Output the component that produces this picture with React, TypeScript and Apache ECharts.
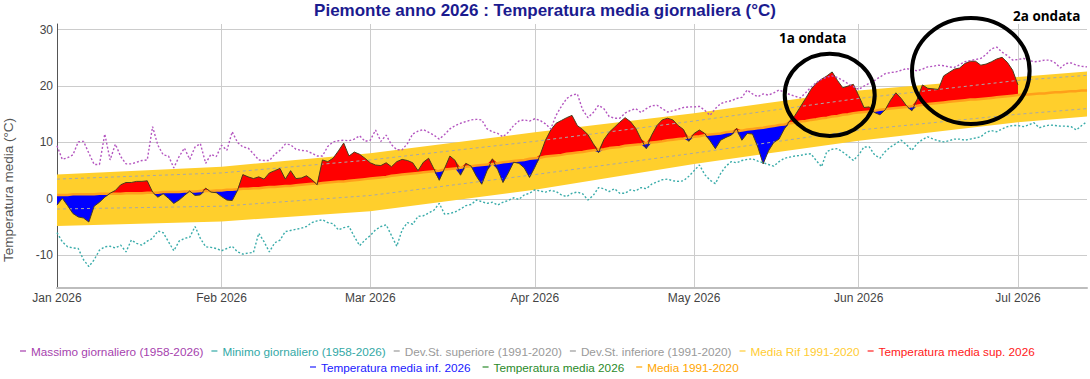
import React, { useEffect, useRef } from 'react';
import * as echarts from 'echarts';

// ---------- data ----------
const START = Date.UTC(2026, 0, 1);
const DAY_MS = 86400000;
const N_DAYS = 195; // Jan 1 .. Jul 14 2026
const categories: string[] = Array.from({ length: N_DAYS }, (_, i) =>
  new Date(START + i * DAY_MS).toISOString().slice(0, 10)
);
const MONTHS = ['Jan', 'Feb', 'Mar', 'Apr', 'May', 'Jun', 'Jul', 'Aug'];

// Temperatura media giornaliera 2026 (Jan 1 .. Jul 1)
const temp2026 = [
  -1.1, 0.1, -1.2, -2.6, -3.2, -3.4, -4.1, -1.3, -0.6, 0.3,
  1.0, 1.5, 2.5, 2.9, 2.9, 3.1, 3.1, 3.2, 1.2, 0.3,
  0.9, 0.1, -0.8, -0.2, 0.6, 1.4, 0.6, 0.7, 1.9, 1.2,
  1.1, 0.4, -0.2, -0.3, 1.5, 4.3, 3.9, 3.6, 3.9, 3.5,
  4.6, 5.0, 5.4, 3.5, 5.0, 3.6, 3.7, 4.1, 3.4, 2.5,
  6.9, 6.6, 7.2, 8.5, 9.9, 7.6, 8.3, 7.9, 7.2, 6.4,
  6.0, 5.9, 6.4, 5.7, 6.6, 7.0, 6.8, 6.4, 5.0, 6.5,
  7.2, 5.3, 3.3, 5.4, 7.6, 6.8, 4.2, 6.3, 5.8, 4.0,
  2.6, 5.0, 7.1, 5.2, 2.9, 4.6, 6.5, 6.3, 5.5, 3.8,
  5.6, 7.8, 10.4, 12.2, 13.4, 13.9, 14.4, 14.8, 13.0, 12.3,
  11.4, 9.8, 8.2, 10.5, 11.8, 12.7, 13.6, 14.4, 13.7, 12.5,
  10.6, 8.9, 11.3, 13.0, 14.0, 14.3, 14.0, 13.0, 12.3, 10.2,
  11.6, 12.2, 11.6, 10.3, 8.9, 10.4, 10.9, 11.3, 12.5, 10.4,
  11.6, 11.5, 9.2, 6.2, 8.5, 10.0, 10.6, 12.4, 13.8, 14.8,
  16.3, 17.8, 19.4, 20.5, 21.2, 21.8, 22.5, 21.0, 19.7, 20.0,
  20.3, 18.3, 16.2, 16.3, 15.3, 14.9, 15.8, 17.5, 18.8, 17.8,
  16.5, 15.6, 17.6, 20.2, 19.6, 19.5, 19.4, 21.8, 22.4, 23.0,
  23.2, 24.0, 24.4, 24.4, 23.7, 23.9, 24.3, 24.8, 25.1, 24.2,
  22.8, 20.2,
];

// Media 1991-2020 (daily climatology, Jan 1 .. Jul 14)
const media9120 = [
  0.7, 0.7, 0.7, 0.8, 0.8, 0.8, 0.8, 0.8, 0.9, 0.9,
  0.9, 0.9, 0.9, 1.0, 1.0, 1.0, 1.0, 1.1, 1.1, 1.1,
  1.2, 1.2, 1.2, 1.2, 1.3, 1.3, 1.3, 1.4, 1.4, 1.4,
  1.5, 1.5, 1.6, 1.6, 1.7, 1.8, 1.8, 1.9, 1.9, 2.0,
  2.1, 2.1, 2.2, 2.3, 2.3, 2.4, 2.5, 2.6, 2.7, 2.7,
  2.8, 2.9, 3.0, 3.1, 3.1, 3.2, 3.3, 3.4, 3.5, 3.6,
  3.7, 3.8, 3.9, 4.1, 4.2, 4.3, 4.4, 4.5, 4.6, 4.7,
  4.8, 4.9, 5.0, 5.2, 5.3, 5.4, 5.5, 5.7, 5.8, 5.9,
  6.0, 6.1, 6.2, 6.3, 6.5, 6.6, 6.7, 6.8, 6.9, 7.1,
  7.2, 7.3, 7.5, 7.6, 7.7, 7.8, 8.0, 8.1, 8.2, 8.3,
  8.5, 8.6, 8.7, 8.8, 9.0, 9.1, 9.2, 9.4, 9.5, 9.6,
  9.7, 9.9, 10.0, 10.1, 10.2, 10.4, 10.5, 10.6, 10.7, 10.9,
  11.0, 11.1, 11.3, 11.4, 11.5, 11.6, 11.8, 11.9, 12.0, 12.1,
  12.3, 12.4, 12.5, 12.6, 12.8, 12.9, 13.1, 13.2, 13.4, 13.5,
  13.7, 13.8, 14.0, 14.1, 14.3, 14.4, 14.6, 14.7, 14.9, 15.0,
  15.2, 15.3, 15.4, 15.5, 15.6, 15.8, 15.9, 16.0, 16.1, 16.2,
  16.3, 16.4, 16.5, 16.7, 16.8, 16.9, 17.0, 17.1, 17.2, 17.3,
  17.4, 17.5, 17.6, 17.6, 17.7, 17.8, 17.9, 18.0, 18.1, 18.2,
  18.3, 18.4, 18.5, 18.5, 18.6, 18.7, 18.7, 18.8, 18.9, 18.9,
  19.0, 19.1, 19.1, 19.2, 19.2,
];

// Massimo giornaliero (1958-2026)
const maxDaily = [
  9.4, 7.0, 7.3, 7.8, 10.1, 10.2, 8.1, 6.1, 6.1, 11.5,
  6.9, 9.7, 7.5, 6.2, 6.2, 6.5, 6.8, 6.9, 12.8, 9.5,
  7.8, 7.6, 5.5, 7.5, 9.0, 7.0, 9.2, 9.8, 6.3, 7.9,
  7.5, 9.5, 8.6, 11.9, 10.0, 9.2, 9.0, 8.0, 6.9, 6.8,
  6.8, 7.9, 8.6, 9.7, 9.6, 8.8, 8.6, 8.5, 8.1, 7.6,
  7.6, 9.3, 10.1, 10.3, 10.4, 10.3, 10.6, 11.2, 10.2, 10.4,
  12.2, 10.2, 11.3, 9.6, 8.7, 8.7, 9.8, 11.5, 12.0, 12.3,
  11.8, 11.3, 10.6, 11.4, 12.4, 13.0, 13.4, 13.7, 14.0, 14.1,
  14.0, 12.4, 11.9, 11.6, 11.0, 11.8, 13.0, 13.8, 14.0, 13.8,
  14.2, 13.9, 13.3, 12.4, 14.8, 16.4, 17.8, 18.4, 18.6, 15.8,
  14.4, 15.3, 16.6, 16.0, 14.6, 14.3, 14.3, 15.2, 15.7, 16.0,
  15.3, 16.0, 16.5, 16.6, 16.0, 15.4, 15.6, 15.9, 16.2, 16.3,
  16.3, 16.4, 15.7, 14.8, 16.0, 16.9, 17.2, 17.4, 17.8, 18.0,
  19.3, 18.6, 18.1, 18.6, 18.4, 18.8, 19.3, 18.9, 18.5, 18.2,
  17.9, 18.8, 19.8, 20.6, 21.2, 21.6, 21.8, 21.5, 21.0, 20.4,
  19.9, 19.4, 20.0, 20.5, 21.0, 21.6, 22.2, 22.4, 22.5, 22.8,
  23.1, 22.9, 22.7, 23.0, 23.4, 23.5, 23.7, 23.6, 23.4, 23.3,
  23.8, 24.3, 24.5, 24.7, 24.9, 25.6, 26.6, 26.9, 26.0, 25.4,
  24.6, 24.7, 24.9, 24.6, 24.3, 24.4, 24.6, 24.6, 24.1, 23.2,
  24.0, 24.1, 23.7, 23.5, 23.4,
];

// Minimo giornaliero (1958-2026)
const minDaily = [
  -6.0, -7.6, -8.5, -8.7, -8.8, -10.8, -12.0, -10.8, -9.1, -8.5,
  -8.4, -8.7, -8.2, -9.4, -7.3, -7.9, -8.2, -7.5, -7.0, -5.7,
  -6.0, -7.6, -9.2, -7.5, -7.0, -6.8, -4.9, -7.0, -8.5, -8.6,
  -8.8, -9.2, -8.8, -8.4, -9.4, -9.8, -9.6, -9.5, -6.1, -7.6,
  -9.4, -7.8, -7.3, -5.8, -5.6, -5.4, -5.2, -4.9, -4.2, -3.9,
  -3.7, -4.2, -4.4, -5.5, -5.1, -4.9, -6.7, -8.3, -7.3, -6.5,
  -5.5, -4.9, -4.6, -6.5, -8.4, -5.5, -4.2, -4.5, -3.1, -3.0,
  -2.5, -2.0, -0.8, -2.7, -2.6, -2.3, -1.8, -1.2, -1.0, -0.2,
  -0.5, -0.8, -0.6, -1.1, -0.6, -0.3, 0.2, -0.1, 0.7, 1.0,
  1.6, 1.4, 1.2, 1.5, 1.3, 0.7, 0.4, 1.0, 1.2, 0.9,
  -0.2, 0.6, 2.0, 1.8, 1.3, 1.8, 1.0, 1.0, 1.6, 1.4,
  2.0, 1.8, 2.6, 3.0, 3.4, 3.5, 3.2, 3.1, 3.2, 4.0,
  5.0, 6.0, 4.3, 3.3, 2.7, 4.5, 5.8, 6.6, 6.4, 6.8,
  7.0, 7.1, 6.7, 6.4, 6.1, 5.8, 6.6, 7.2, 7.4, 7.6,
  7.7, 7.9, 8.0, 6.8, 5.7, 8.4, 8.8, 8.9, 8.3, 7.6,
  6.8, 7.8, 9.2, 9.2, 7.8, 7.2, 8.4, 9.2, 9.8, 10.4,
  9.6, 8.6, 9.8, 10.5, 11.0, 10.6, 10.3, 10.1, 10.3, 10.6,
  10.6, 10.4, 10.6, 10.8, 11.0, 11.8, 12.1, 11.9, 12.4, 12.8,
  13.0, 13.0, 12.8, 13.1, 13.5, 12.6, 12.9, 13.1, 13.0, 12.9,
  12.9, 12.8, 12.2, 13.0, 13.7,
];

// Reference band (Media Rif 1991-2020) and Dev.St. lines, sampled days
const refDays = [0, 31, 59, 90, 120, 151, 181, 194];
const bandLow = [-4.8, -4.0, -2.2, 1.6, 6.2, 10.3, 13.6, 14.6];
const bandHigh = [4.3, 5.7, 8.1, 11.8, 15.2, 19.2, 21.6, 22.6];
const devStSup = [3.5, 4.6, 6.9, 10.2, 13.8, 17.8, 21.0, 21.9];
const devStInf = [-1.8, -1.3, 0.6, 4.3, 8.1, 12.2, 15.0, 16.0];

const TITLE = 'Piemonte anno 2026 : Temperatura media giornaliera (°C)';
const Y_NAME = 'Temperatura media (°C)';
const LEGEND_ROW1 = [
  'Massimo giornaliero (1958-2026)',
  'Minimo giornaliero (1958-2026)',
  'Dev.St. superiore (1991-2020)',
  'Dev.St. inferiore (1991-2020)',
  'Media Rif 1991-2020',
  'Temperatura media sup. 2026',
];
const LEGEND_ROW2 = ['Temperatura media inf. 2026', 'Temperatura media 2026', 'Media 1991-2020'];
const ANNOTATIONS = ['1a ondata', '2a ondata'];

// ---------- styles ----------
const FONT = "'Liberation Sans', Arial, Helvetica, sans-serif";
const COLOR: Record<string, string> = {
  'Massimo giornaliero (1958-2026)': '#a63fae',
  'Minimo giornaliero (1958-2026)': '#33a9a6',
  'Dev.St. superiore (1991-2020)': '#9a9a9a',
  'Dev.St. inferiore (1991-2020)': '#9a9a9a',
  'Media Rif 1991-2020': '#ffcc33',
  'Temperatura media sup. 2026': '#ff2020',
  'Temperatura media inf. 2026': '#2020ff',
  'Temperatura media 2026': '#2a8a2a',
  'Media 1991-2020': '#ffa500',
};

const pairs = (days: number[], vals: number[]) => days.map((d, i) => [d, vals[i]]);

function buildOption() {
  const supBase = temp2026.map((_, i) => media9120[i]);
  const supDelta = temp2026.map((t, i) => +Math.max(t - media9120[i], 0).toFixed(2));
  const infBase = temp2026.map((t, i) => Math.min(t, media9120[i]));
  const infDelta = temp2026.map((t, i) => +Math.max(media9120[i] - t, 0).toFixed(2));
  const bandDelta = bandHigh.map((h, i) => +(h - bandLow[i]).toFixed(2));

  const isMonthStart = (_i: number, v: string) => typeof v === 'string' && v.slice(8, 10) === '01';

  const hidden = {
    type: 'line',
    symbol: 'none',
    silent: true,
    stackStrategy: 'all',
    lineStyle: { width: 0, opacity: 0 },
  };

  const legendCommon = {
    icon: 'rect',
    itemWidth: 6,
    itemHeight: 1.2,
    itemGap: 8,
    padding: 0,
    selectedMode: false,
    orient: 'horizontal',
    itemStyle: { borderWidth: 0 },
    textStyle: { fontFamily: FONT, fontSize: 11.75 },
  };
  const legendData = (names: string[]) =>
    names.map((n) => ({ name: n, itemStyle: { color: COLOR[n], borderWidth: 0 }, textStyle: { color: COLOR[n] } }));

  const annFont = "'Open Sans', 'Noto Sans', sans-serif";

  return {
    animation: false,
    backgroundColor: '#ffffff',
    title: {
      text: TITLE,
      left: 'center',
      top: -3,
      textStyle: { fontFamily: FONT, fontSize: 17, fontWeight: 'bold', color: '#1b1b8f' },
    },
    grid: { left: 57, right: 3, top: 24, bottom: 91, containLabel: false },
    xAxis: {
      type: 'category',
      data: categories,
      boundaryGap: false,
      axisLine: { onZero: false, lineStyle: { color: '#bdbdbd', width: 2 } },
      axisTick: { show: false },
      axisLabel: {
        interval: isMonthStart,
        formatter: (v: string) => MONTHS[+v.slice(5, 7) - 1] + ' ' + v.slice(0, 4),
        fontFamily: FONT,
        fontSize: 12,
        color: '#444',
        margin: 4,
      },
      splitLine: { show: true, interval: isMonthStart, lineStyle: { color: '#cccccc', width: 1 } },
    },
    yAxis: {
      type: 'value',
      min: -15.8,
      max: 31,
      axisLine: { show: true, lineStyle: { color: '#555', width: 1 } },
      axisTick: { show: false },
      axisLabel: {
        fontFamily: FONT,
        fontSize: 12,
        color: '#444',
        margin: 4,
        showMinLabel: false,
        showMaxLabel: false,
      },
      splitLine: { show: true, showMinLine: false, showMaxLine: false, lineStyle: { color: '#cccccc', width: 1 } },
    },
    legend: [
      { ...legendCommon, left: 20, top: 345, data: legendData(LEGEND_ROW1) },
      { ...legendCommon, itemGap: 12, left: 310, top: 361, data: legendData(LEGEND_ROW2) },
    ],
    graphic: [
      {
        type: 'text',
        x: 8,
        y: 190,
        rotation: Math.PI / 2,
        style: {
          text: Y_NAME,
          fontFamily: FONT,
          fontSize: 13.5,
          fill: '#555',
          align: 'center',
          verticalAlign: 'middle',
        },
      },
      {
        type: 'ellipse',
        z: 100,
        shape: { cx: 829.7, cy: 94.9, rx: 45, ry: 41.2 },
        style: { fill: 'none', stroke: '#000', lineWidth: 4 },
      },
      {
        type: 'ellipse',
        z: 100,
        shape: { cx: 970.8, cy: 71, rx: 58.8, ry: 53 },
        style: { fill: 'none', stroke: '#000', lineWidth: 4 },
      },
      {
        type: 'text',
        z: 100,
        x: 779,
        y: 38,
        style: {
          text: ANNOTATIONS[0],
          fontFamily: annFont,
          fontWeight: 'bold',
          fontSize: 13.5,
          fill: '#000',
          align: 'left',
          verticalAlign: 'middle',
        },
      },
      {
        type: 'text',
        z: 100,
        x: 1013,
        y: 16,
        style: {
          text: ANNOTATIONS[1],
          fontFamily: annFont,
          fontWeight: 'bold',
          fontSize: 13.5,
          fill: '#000',
          align: 'left',
          verticalAlign: 'middle',
        },
      },
    ],
    series: [
      { ...hidden, name: 'bandBase', stack: 'band', data: pairs(refDays, bandLow) },
      {
        type: 'line',
        name: 'Media Rif 1991-2020',
        stack: 'band',
        stackStrategy: 'all',
        symbol: 'none',
        silent: true,
        color: COLOR['Media Rif 1991-2020'],
        lineStyle: { width: 0 },
        areaStyle: { color: '#ffcf2c', opacity: 1 },
        data: pairs(refDays, bandDelta),
      },
      {
        type: 'line',
        name: 'Dev.St. superiore (1991-2020)',
        symbol: 'none',
        silent: true,
        color: COLOR['Dev.St. superiore (1991-2020)'],
        lineStyle: { color: '#a8a8a8', width: 1, type: [3, 3] },
        data: pairs(refDays, devStSup),
      },
      {
        type: 'line',
        name: 'Dev.St. inferiore (1991-2020)',
        symbol: 'none',
        silent: true,
        color: COLOR['Dev.St. inferiore (1991-2020)'],
        lineStyle: { color: '#a8a8a8', width: 1, type: [3, 3] },
        data: pairs(refDays, devStInf),
      },
      { ...hidden, name: 'supBase', stack: 'sup', data: supBase },
      {
        type: 'line',
        name: 'Temperatura media sup. 2026',
        stack: 'sup',
        stackStrategy: 'all',
        symbol: 'none',
        silent: true,
        color: COLOR['Temperatura media sup. 2026'],
        lineStyle: { width: 0 },
        areaStyle: { color: '#ff0000', opacity: 1 },
        data: supDelta,
      },
      { ...hidden, name: 'infBase', stack: 'inf', data: infBase },
      {
        type: 'line',
        name: 'Temperatura media inf. 2026',
        stack: 'inf',
        stackStrategy: 'all',
        symbol: 'none',
        silent: true,
        color: COLOR['Temperatura media inf. 2026'],
        lineStyle: { width: 0 },
        areaStyle: { color: '#0000ff', opacity: 1 },
        data: infDelta,
      },
      {
        type: 'line',
        name: 'Media 1991-2020',
        symbol: 'none',
        silent: true,
        color: COLOR['Media 1991-2020'],
        lineStyle: { color: '#ffa01a', width: 2.5 },
        data: media9120,
      },
      {
        type: 'line',
        name: 'Temperatura media 2026',
        symbol: 'none',
        silent: true,
        color: COLOR['Temperatura media 2026'],
        lineStyle: { color: '#4a3d1c', width: 1 },
        data: temp2026,
      },
      {
        type: 'line',
        name: 'Massimo giornaliero (1958-2026)',
        symbol: 'none',
        silent: true,
        color: COLOR['Massimo giornaliero (1958-2026)'],
        lineStyle: { color: '#b456c0', width: 1.4, type: [2, 2] },
        data: maxDaily,
      },
      {
        type: 'line',
        name: 'Minimo giornaliero (1958-2026)',
        symbol: 'none',
        silent: true,
        color: COLOR['Minimo giornaliero (1958-2026)'],
        lineStyle: { color: '#3aacaa', width: 1.4, type: [2, 2] },
        data: minDaily,
      },
    ],
  };
}

export default function App() {
  const ref = useRef<HTMLDivElement>(null);
  useEffect(() => {
    document.body.style.margin = '0';
    if (!ref.current) return;
    const chart = echarts.init(ref.current, undefined, { renderer: 'svg' });
    chart.setOption(buildOption() as any);
    return () => chart.dispose();
  }, []);
  return <div ref={ref} style={{ width: 1090, height: 379 }} />;
}
